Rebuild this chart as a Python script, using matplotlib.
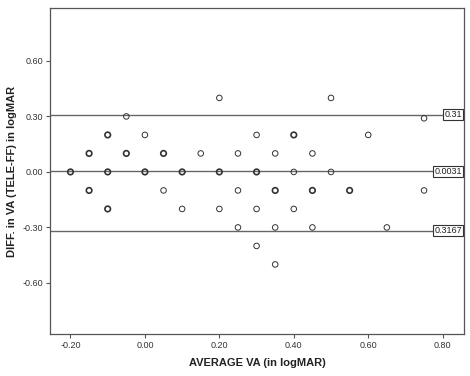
import numpy as np
import matplotlib.pyplot as plt

plt.rcParams['font.family'] = ['Liberation Sans', 'DejaVu Sans']

# average VA (x), difference (y), number of overlapping cases at that point
avg_va = [0.20, 0.50,
          -0.05, 0.75,
          -0.10, 0.00, 0.30, 0.40, 0.60,
          -0.15, -0.05, 0.05, 0.15, 0.25, 0.35, 0.45,
          -0.20, -0.10, 0.00, 0.10, 0.20, 0.30, 0.40, 0.50,
          -0.15, 0.05, 0.25, 0.35, 0.45, 0.55, 0.75,
          -0.10, 0.10, 0.20, 0.30, 0.40,
          0.25, 0.35, 0.45, 0.65,
          0.30,
          0.35]
diff_va = [0.40, 0.40,
           0.30, 0.29,
           0.20, 0.20, 0.20, 0.20, 0.20,
           0.10, 0.10, 0.10, 0.10, 0.10, 0.10, 0.10,
           0.00, 0.00, 0.00, 0.00, 0.00, 0.00, 0.00, 0.00,
           -0.10, -0.10, -0.10, -0.10, -0.10, -0.10, -0.10,
           -0.20, -0.20, -0.20, -0.20, -0.20,
           -0.30, -0.30, -0.30, -0.30,
           -0.40,
           -0.50]
count = [1, 1,
         1, 1,
         2, 1, 1, 2, 1,
         2, 2, 2, 1, 1, 1, 1,
         2, 2, 2, 2, 2, 2, 1, 1,
         2, 1, 1, 2, 2, 2, 1,
         2, 1, 1, 1, 1,
         1, 1, 1, 1,
         1,
         1]

mean_diff = 0.0031
upper_loa = 0.31
lower_loa = -0.3167
line_labels = ['0.31', '0.0031', '0.3167']

x_ticks = [-0.20, 0.00, 0.20, 0.40, 0.60, 0.80]
y_ticks = [-0.60, -0.30, 0.00, 0.30, 0.60]

fig = plt.figure(figsize=(4.7, 3.76), dpi=100)
ax = fig.add_axes([0.1064, 0.1117, 0.8806, 0.867])

frame_col = '#555555'
for y, lab in zip([upper_loa, mean_diff, lower_loa], line_labels):
    ax.axhline(y, color='#666666', lw=1.0, zorder=1)
    ax.text(0.995, y, lab, transform=ax.get_yaxis_transform(),
            ha='right', va='center', fontsize=6.5, color='#222222',
            bbox=dict(boxstyle='square,pad=0.15', fc='white', ec='#333333', lw=0.8),
            zorder=3)

lws = [0.7 + 0.5 * (c - 1) for c in count]
ax.scatter(avg_va, diff_va, s=16, facecolors='none', edgecolors='#333333',
           linewidths=lws, zorder=2)

ax.set_xlim(-0.255, 0.857)
ax.set_ylim(-0.876, 0.886)
ax.set_xticks(x_ticks)
ax.set_xticklabels([f'{v:.2f}' for v in x_ticks])
ax.set_yticks(y_ticks)
ax.set_yticklabels([f'{v:.2f}' for v in y_ticks])
ax.tick_params(direction='out', length=3, width=0.8, color=frame_col,
               labelsize=6.5, labelcolor='#333333', pad=2)
for s in ax.spines.values():
    s.set_color(frame_col)
    s.set_linewidth(0.9)

ax.set_xlabel('AVERAGE VA (in logMAR)', fontsize=8, fontweight='bold',
              color='#222222', labelpad=6)
ax.set_ylabel('DIFF. in VA (TELE-FF) in logMAR', fontsize=8, fontweight='bold',
              color='#222222', labelpad=4)

fig.savefig('out.png', dpi=100)
